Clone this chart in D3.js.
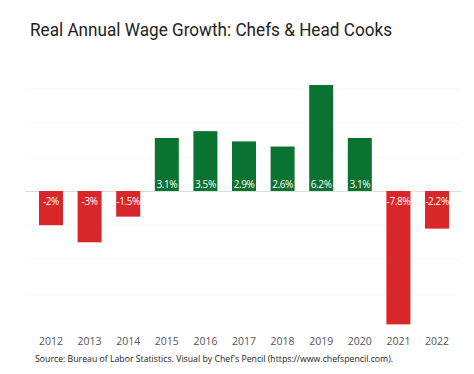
<!DOCTYPE html>
<html>
<head>
<meta charset="utf-8">
<script src="https://cdn.jsdelivr.net/npm/d3@7"></script>
<style>
  html, body { margin: 0; padding: 0; background: #fff; }
  svg { display: block; }
</style>
</head>
<body>
<svg id="chart" width="474" height="374"></svg>
<script>
const years = ["2012","2013","2014","2015","2016","2017","2018","2019","2020","2021","2022"];
const growth = [-2, -3, -1.5, 3.1, 3.5, 2.9, 2.6, 6.2, 3.1, -7.8, -2.2];
const valueLabels = ["-2%","-3%","-1.5%","3.1%","3.5%","2.9%","2.6%","6.2%","3.1%","-7.8%","-2.2%"];
const titleText = "Real Annual Wage Growth: Chefs & Head Cooks";
const sourceText = "Source: Bureau of Labor Statistics. Visual by Chef's Pencil (https://www.chefspencil.com).";

const data = years.map((y, i) => ({ year: y, value: growth[i], label: valueLabels[i] }));

const svg = d3.select("#chart");
const font = "'Open Sans', 'Noto Sans', sans-serif";

const x = d3.scaleBand()
  .domain(years)
  .range([31.7, 456.3])
  .paddingInner(0.378)
  .paddingOuter(0.189);

const y = d3.scaleLinear()
  .domain([-8, 7])
  .range([327.8, 71.3]);

const green = "#0b7331";
const red = "#d92629";

// title
svg.append("text")
  .attr("x", 30).attr("y", 36)
  .attr("font-family", "Roboto, 'Open Sans', sans-serif")
  .attr("font-size", 19)
  .attr("fill", "#222")
  .attr("textLength", 362)
  .attr("lengthAdjust", "spacingAndGlyphs")
  .text(titleText);

// faint grid
const gridTicks = [-6, -4, -2, 2, 4, 6];
svg.append("g").selectAll("line").data(gridTicks).join("line")
  .attr("x1", 25).attr("x2", 460)
  .attr("y1", d => Math.round(y(d)) + 0.5)
  .attr("y2", d => Math.round(y(d)) + 0.5)
  .attr("stroke", "#f9f9f9")
  .attr("stroke-width", 1);

// zero line
svg.append("line")
  .attr("x1", 25).attr("x2", 462)
  .attr("y1", Math.round(y(0)) + 0.5).attr("y2", Math.round(y(0)) + 0.5)
  .attr("stroke", "#dddddd")
  .attr("stroke-width", 1);

// bars
svg.append("g").selectAll("rect").data(data).join("rect")
  .attr("x", d => x(d.year))
  .attr("width", x.bandwidth())
  .attr("y", d => y(Math.max(0, d.value)))
  .attr("height", d => Math.abs(y(d.value) - y(0)))
  .attr("fill", d => d.value >= 0 ? green : red);

// value labels
svg.append("g").selectAll("text").data(data).join("text")
  .attr("x", d => x(d.year) + x.bandwidth() / 2)
  .attr("y", d => d.value >= 0 ? y(0) - 3 : y(0) + 14)
  .attr("text-anchor", "middle")
  .attr("font-family", font)
  .attr("font-size", 10)
  .attr("letter-spacing", "-0.4")
  .attr("fill", "#ffffff")
  .text(d => d.label);

// x axis labels
const xAxis = d3.axisBottom(x).tickSize(0).tickPadding(0);
const gx = svg.append("g")
  .attr("transform", "translate(0,338)")
  .call(xAxis);
gx.select(".domain").remove();
gx.selectAll("text")
  .attr("font-family", font)
  .attr("font-size", 10.5)
  .attr("fill", "#555")
  .attr("dy", "0.71em");

// source
svg.append("text")
  .attr("x", 35).attr("y", 362)
  .attr("font-family", font)
  .attr("font-size", 9)
  .attr("fill", "#222")
  .attr("textLength", 358)
  .attr("lengthAdjust", "spacingAndGlyphs")
  .text(sourceText);
</script>
</body>
</html>
